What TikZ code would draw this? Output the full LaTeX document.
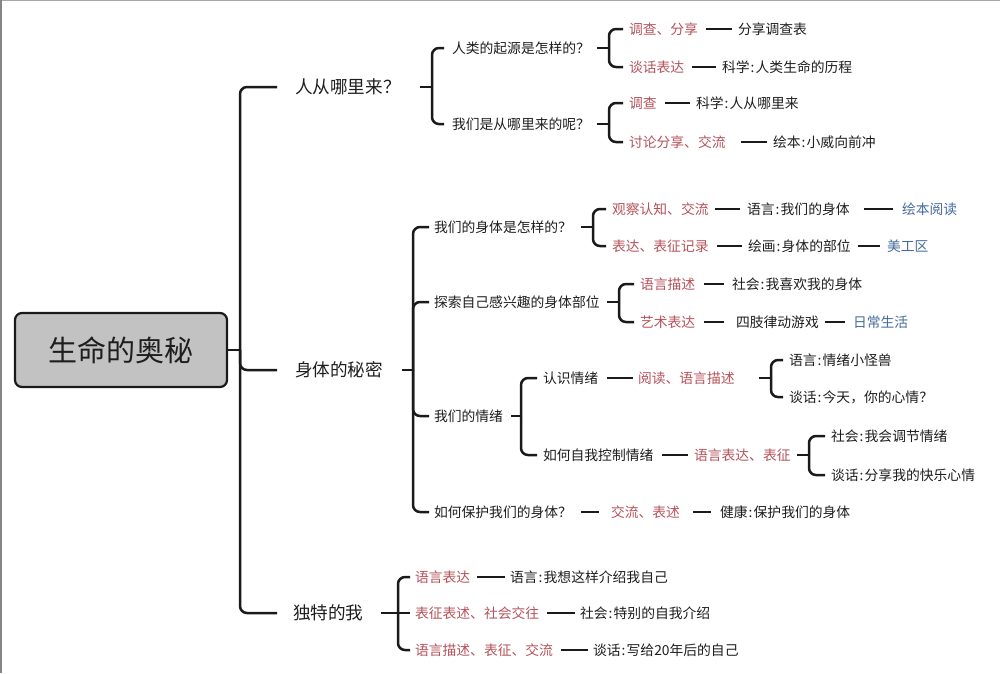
\documentclass[tikz,border=0pt]{standalone}
\usepackage{fontspec}
\setmainfont{Noto Sans CJK SC}
\definecolor{ink}{HTML}{1A1A1A}
\definecolor{txt}{HTML}{1E1E1E}
\definecolor{redt}{HTML}{B5525A}
\definecolor{bluet}{HTML}{456C9C}
\definecolor{rootfill}{HTML}{C2C2C2}
\definecolor{framec}{HTML}{A8A8A8}
\newcommand{\cn}{\kern0.08em:\kern0.08em}
% branch from bracket line to child
\newcommand{\mybr}[4]{\draw[brk] (#1 |- #2.east) -- (#1 |- #3.west) -- ([xshift=-#4]#3.west);}
% stub from parent to bracket line
\newcommand{\mystub}[3]{\draw[brk] ([xshift=#3]#2.east) -- (#1 |- #2.east);}
% short tie between two nodes on one row
\newcommand{\mytie}[4]{\draw[tie] ([xshift=#3]#1.east) -- ([xshift=-#4]#2.west);}
\begin{document}
\begin{tikzpicture}[x=1pt,y=-1pt,
 lbl/.style={anchor=west,inner sep=0pt,outer sep=0pt,text=txt,font=\fontsize{13.8}{16}\selectfont,text height=12.1pt,text depth=1.7pt},
 redl/.style={lbl,text=redt},
 bluel/.style={lbl,text=bluet},
 bigl/.style={anchor=west,inner sep=0pt,outer sep=0pt,text=txt,font=\fontsize{17.6}{20}\selectfont,text height=15.5pt,text depth=2.1pt},
 rootbox/.style={draw=ink,line width=2.2pt,fill=rootfill,rounded corners=7pt,minimum width=212pt,minimum height=74pt,inner sep=0pt,text=txt,font=\fontsize{29}{32}\selectfont,text height=25.5pt,text depth=3.5pt},
 brk/.style={draw=ink,line width=2.5pt,rounded corners=7pt},
 tie/.style={draw=ink,line width=2pt}]
\useasboundingbox (0,0) rectangle (1000,673);
\fill[white] (0,0) rectangle (1000,673);
\draw[framec,line width=2pt] (0,0) -- (1000,0);
\draw[framec!80!black,line width=3pt] (0,0) -- (0,673);

% root and level 1
\node[rootbox] (R) at (121,350) {生命的奥秘};
\node[bigl] (A) at (295,87) {人从哪里来？};
\node[bigl] (B) at (295,370) {身体的秘密};
\node[bigl] (C) at (293,613) {独特的我};

% bracket x positions
\coordinate (kT) at (240,0);
\coordinate (kA) at (432,0);
\coordinate (kA1) at (609,0);
\coordinate (kA2) at (609,0);
\coordinate (kB) at (413,0);
\coordinate (kB1) at (593,0);
\coordinate (kB2) at (619,0);
\coordinate (kB3) at (521,0);
\coordinate (kE1) at (771,0);
\coordinate (kE2) at (809,0);
\coordinate (kC) at (398,0);

% branch A
\node[lbl] (A1) at (452,48) {人类的起源是怎样的？};
\node[lbl] (A2) at (452,124) {我们是从哪里来的呢？};
\node[redl] (a11) at (629,29) {调查、分享};
\node[lbl] (a12) at (738,29) {分享调查表};
\node[redl] (a13) at (629,67) {谈话表达};
\node[lbl] (a14) at (722,67) {科学\cn 人类生命的历程};
\node[redl] (a21) at (629,103) {调查};
\node[lbl] (a22) at (696,103) {科学\cn 人从哪里来};
\node[redl] (a23) at (629,142) {讨论分享、交流};
\node[lbl] (a24) at (773,142) {绘本\cn 小威向前冲};

% branch B
\node[lbl] (B1) at (434,227) {我们的身体是怎样的？};
\node[redl] (b11) at (612,209) {观察认知、交流};
\node[lbl] (b12) at (747,209) {语言\cn 我们的身体};
\node[bluel] (b13) at (902,209) {绘本阅读};
\node[redl] (b14) at (612,246) {表达、表征记录};
\node[lbl] (b15) at (748,246) {绘画\cn 身体的部位};
\node[bluel] (b16) at (887,246) {美工区};
\node[lbl] (B2) at (434,302) {探索自己感兴趣的身体部位};
\node[redl] (b21) at (640,284) {语言描述};
\node[lbl] (b22) at (732,284) {社会\cn 我喜欢我的身体};
\node[redl] (b23) at (640,322) {艺术表达};
\node[lbl] (b24) at (736,322) {四肢律动游戏};
\node[bluel] (b25) at (853,322) {日常生活};
\node[lbl] (B3) at (434,416) {我们的情绪};
\node[lbl] (b31) at (543,378) {认识情绪};
\node[redl] (b32) at (638,378) {阅读、语言描述};
\node[lbl] (b33) at (789,360) {语言\cn 情绪小怪兽};
\node[lbl] (b34) at (789,397) {谈话\cn 今天，你的心情？};
\node[lbl] (b35) at (543,455) {如何自我控制情绪};
\node[redl] (b36) at (694,455) {语言表达、表征};
\node[lbl] (b37) at (831,436) {社会\cn 我会调节情绪};
\node[lbl] (b38) at (831,475) {谈话\cn 分享我的快乐心情};
\node[lbl] (B4) at (434,512) {如何保护我们的身体？};
\node[redl] (b41) at (611,512) {交流、表述};
\node[lbl] (b42) at (720,512) {健康\cn 保护我们的身体};

% branch C
\node[redl] (c1) at (415,577) {语言表达};
\node[lbl] (c2) at (510,577) {语言\cn 我想这样介绍我自己};
\node[redl] (c3) at (415,613) {表征表述、社会交往};
\node[lbl] (c4) at (580,613) {社会\cn 特别的自我介绍};
\node[redl] (c5) at (415,650) {语言描述、表征、交流};
\node[lbl] (c6) at (593,650) {谈话\cn 写给20年后的自己};

% trunk
\draw[brk] (R.east) -- (kT |- R.east);
\mybr{kT}{R}{A}{18}
\mybr{kT}{R}{B}{18}
\mybr{kT}{R}{C}{16}

% A brackets
\mystub{kA}{A}{19}
\mybr{kA}{A}{A1}{8}
\mybr{kA}{A}{A2}{8}
\mystub{kA1}{A1}{7}
\mybr{kA1}{A1}{a11}{6}
\mybr{kA1}{A1}{a13}{6}
\mystub{kA2}{A2}{7}
\mybr{kA2}{A2}{a21}{6}
\mybr{kA2}{A2}{a23}{6}
\mytie{a11}{a12}{8}{6}
\mytie{a13}{a14}{8}{6}
\mytie{a21}{a22}{8}{6}
\mytie{a23}{a24}{15}{6}

% B brackets
\mystub{kB}{B}{19}
\mybr{kB}{B}{B1}{5}
\mybr{kB}{B}{B2}{5}
\mybr{kB}{B}{B3}{5}
\mybr{kB}{B}{B4}{5}
\mystub{kB1}{B1}{9}
\mybr{kB1}{B1}{b11}{6}
\mybr{kB1}{B1}{b14}{6}
\mytie{b11}{b12}{6.5}{7}
\mytie{b12}{b13}{14}{9}
\mytie{b14}{b15}{8.5}{6}
\mytie{b15}{b16}{7}{7}
\mystub{kB2}{B2}{7}
\mybr{kB2}{B2}{b21}{6}
\mybr{kB2}{B2}{b23}{6}
\mytie{b21}{b22}{9}{8}
\mytie{b23}{b24}{9}{12}
\mytie{b24}{b25}{6}{8}
\mystub{kB3}{B3}{8}
\mybr{kB3}{B3}{b31}{6}
\mybr{kB3}{B3}{b35}{6}
\mytie{b31}{b32}{9}{5}
\mystub{kE1}{b32}{24}
\mybr{kE1}{b32}{b33}{6}
\mybr{kE1}{b32}{b34}{6}
\mytie{b35}{b36}{8.6}{6}
\mystub{kE2}{b36}{6}
\mybr{kE2}{b36}{b37}{6}
\mybr{kE2}{b36}{b38}{6}
\mytie{B4}{b41}{9}{12}
\mytie{b41}{b42}{13}{9}

% C bracket
\mystub{kC}{C}{17.5}
\mybr{kC}{C}{c1}{5}
\draw[brk] (kC |- C.east) -- ([xshift=-5]c3.west);
\mybr{kC}{C}{c5}{5}
\mytie{c1}{c2}{7}{5}
\mytie{c3}{c4}{8}{5}
\mytie{c5}{c6}{8}{5}
\end{tikzpicture}
\end{document}
